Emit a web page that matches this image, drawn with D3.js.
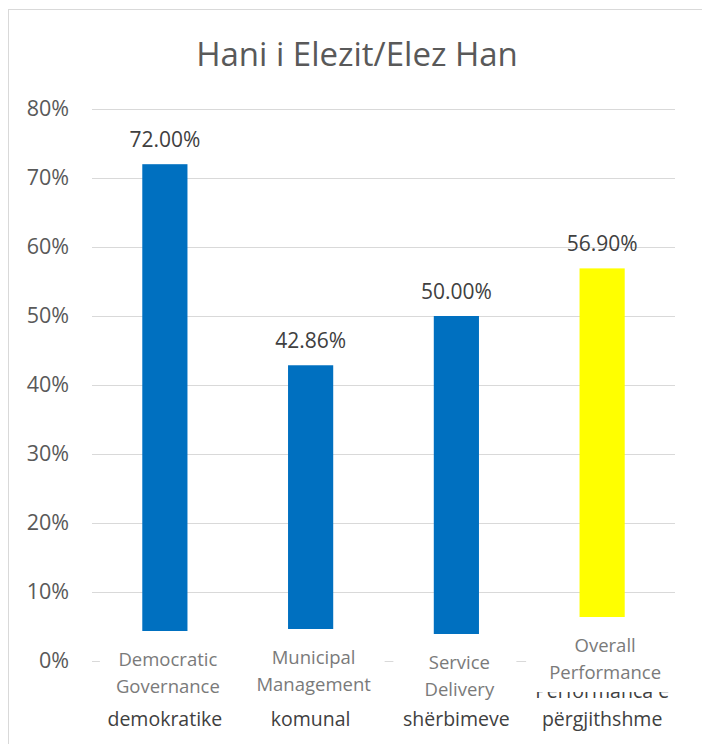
<!doctype html>
<html>
<head>
<meta charset="utf-8">
<script src="https://d3js.org/d3.v7.min.js"></script>
<style>
  body { margin: 0; background: #fff; }
  svg text { font-family: "Open Sans", sans-serif; }
  .grid line { stroke: #d9d9d9; stroke-width: 1; }
  .grid path { display: none; }
  .yaxis path, .yaxis line { display: none; }
</style>
</head>
<body>
<script>
// chart data
var title = "Hani i Elezit/Elez Han";
var categories = ["Democratic Governance", "Municipal Management", "Service Delivery", "Overall Performance"];
var values = [72.00, 42.86, 50.00, 56.90];
var barColors = ["#0070c0", "#0070c0", "#0070c0", "#ffff00"];
var yTicks = [0, 10, 20, 30, 40, 50, 60, 70, 80];
// english labels pasted over the original albanian ones
var englishLines = [["Democratic", "Governance"], ["Municipal", "Management"], ["Service", "Delivery"], ["Overall", "Performance"]];
// only the lines that still show below the pasted boxes
var albanianLines = [["", "demokratike"], ["", "komunal"], ["", "shërbimeve"], ["Performanca e", "përgjithshme"]];

// layout of the pasted label boxes (offsets from the 0% line / band centre)
var boxTop = [-30, -32, -27, -44];
var boxLeft = [-65, -72, -63, -76];
var boxRight = [78, 74, 60, 90];

var W = 702, H = 744;
var margin = {top: 109, right: 27, bottom: 83, left: 92};

var svg = d3.select("body").append("svg")
  .attr("width", W)
  .attr("height", H);

// outer frame (cropped on the right and bottom)
svg.append("rect")
  .attr("x", 8.5).attr("y", 9.5)
  .attr("width", 760).attr("height", 800)
  .attr("fill", "#fff")
  .attr("stroke", "#d9d9d9");

svg.append("text")
  .attr("x", 357).attr("y", 66)
  .attr("text-anchor", "middle")
  .attr("font-size", 33)
  .attr("fill", "#595959")
  .text(title);

var x = d3.scaleBand()
  .domain(categories)
  .range([margin.left, W - margin.right])
  .paddingInner(0.69)
  .paddingOuter(0.345);

var y = d3.scaleLinear()
  .domain([0, 80])
  .range([H - margin.bottom, margin.top]);

// gridlines
svg.append("g")
  .attr("class", "grid")
  .attr("transform", "translate(" + margin.left + ",0)")
  .call(d3.axisLeft(y).tickValues(yTicks).tickSize(-(W - margin.right - margin.left)).tickFormat(""));

// y axis labels
svg.append("g")
  .attr("class", "yaxis")
  .attr("transform", "translate(" + margin.left + ",0)")
  .call(d3.axisLeft(y).tickValues(yTicks).tickSize(0).tickPadding(23).tickFormat(function(d) { return d + "%"; }))
  .selectAll("text")
  .attr("font-size", 21.5)
  .attr("fill", "#595959")
  .attr("font-family", "'Open Sans', sans-serif");

// bars
svg.selectAll(".bar")
  .data(values)
  .enter().append("rect")
  .attr("class", "bar")
  .attr("x", function(d, i) { return x(categories[i]); })
  .attr("width", x.bandwidth())
  .attr("y", function(d) { return y(d); })
  .attr("height", function(d) { return y(0) - y(d); })
  .attr("fill", function(d, i) { return barColors[i]; });

// value labels
svg.selectAll(".val")
  .data(values)
  .enter().append("text")
  .attr("class", "val")
  .attr("x", function(d, i) { return x(categories[i]) + x.bandwidth() / 2; })
  .attr("y", function(d) { return y(d) - 17; })
  .attr("text-anchor", "middle")
  .attr("font-size", 21)
  .attr("fill", "#404040")
  .text(function(d) { return d.toFixed(2) + "%"; });

// original albanian category labels
var alb = svg.selectAll(".alb")
  .data(albanianLines)
  .enter().append("text")
  .attr("class", "alb")
  .attr("text-anchor", "middle")
  .attr("font-size", 19.5)
  .attr("fill", "#404040");
alb.selectAll("tspan")
  .data(function(d, i) { return d.map(function(t, j) { return {t: t, i: i, j: j}; }).filter(function(d) { return d.t; }); })
  .enter().append("tspan")
  .attr("x", function(d) { return x(categories[d.i]) + x.bandwidth() / 2; })
  .attr("y", function(d) { return y(0) + 37 + d.j * 28; })
  .text(function(d) { return d.t; });

// pasted english label boxes
var boxes = svg.selectAll(".lbl")
  .data(englishLines)
  .enter().append("g")
  .attr("class", "lbl")
  .attr("transform", function(d, i) {
    return "translate(" + (x(categories[i]) + x.bandwidth() / 2) + "," + (y(0) + boxTop[i]) + ")";
  });
boxes.append("rect")
  .attr("x", function(d, i) { return boxLeft[i]; })
  .attr("width", function(d, i) { return boxRight[i] - boxLeft[i]; })
  .attr("y", 0)
  .attr("height", 75)
  .attr("fill", "#fff");
boxes.selectAll("text")
  .data(function(d) { return d; })
  .enter().append("text")
  .attr("x", 3)
  .attr("y", function(d, j) { return 35 + j * 27; })
  .attr("text-anchor", "middle")
  .attr("font-size", 18.5)
  .attr("fill", "#7a7a7a")
  .text(function(d) { return d; });
</script>
</body>
</html>
